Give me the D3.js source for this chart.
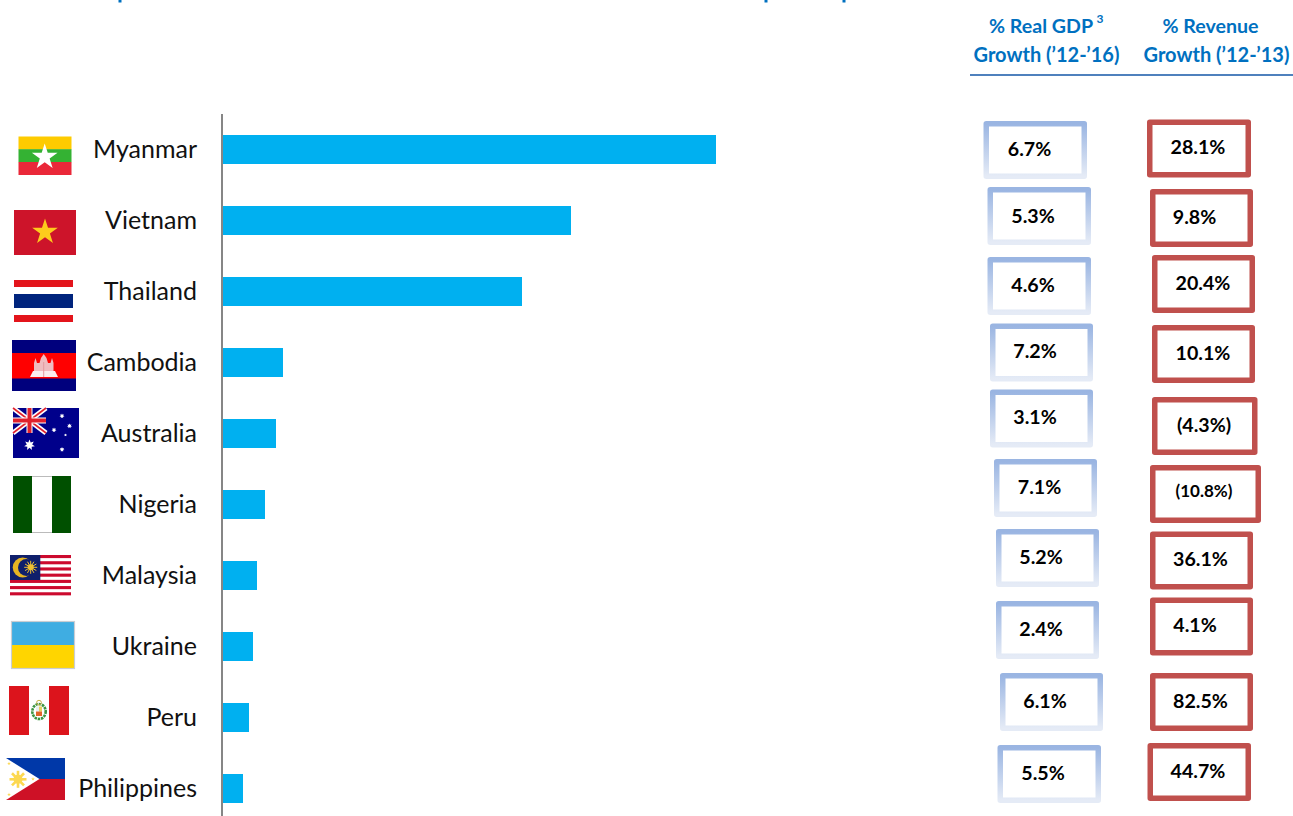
<!DOCTYPE html>
<html>
<head>
<meta charset="utf-8">
<script src="https://cdn.jsdelivr.net/npm/d3@7"></script>
<style>
  html, body { margin: 0; padding: 0; background: #fff; overflow: hidden; }
  svg { display: block; }
  text { font-family: Lato, "Open Sans", sans-serif; }
</style>
</head>
<body>
<svg id="chart" width="1293" height="816"></svg>
<script>
// Chart values
const countries = ["Myanmar", "Vietnam", "Thailand", "Cambodia", "Australia", "Nigeria", "Malaysia", "Ukraine", "Peru", "Philippines"];
const barValues = [493, 348, 299, 60, 53, 42, 34, 30, 26, 20];
const gdpGrowth = ["6.7%", "5.3%", "4.6%", "7.2%", "3.1%", "7.1%", "5.2%", "2.4%", "6.1%", "5.5%"];
const revenueGrowth = ["28.1%", "9.8%", "20.4%", "10.1%", "(4.3%)", "(10.8%)", "36.1%", "4.1%", "82.5%", "44.7%"];

// Hand placement of the value boxes: [left, top, width, height, text centre x, text centre y]
const gdpBoxes = [
  [983.5, 121, 103.5, 58, 1029.5, 149], [987.5, 187, 103.5, 58, 1033, 216], [987.5, 257, 103.5, 58, 1033, 285],
  [990, 323.5, 103, 58, 1035, 351], [990, 389.5, 103, 58, 1035, 417], [994, 459, 103, 58, 1039.5, 487],
  [996, 529, 103, 58, 1041, 557], [996, 601, 103, 58, 1041, 629], [1000, 673, 103, 58, 1045, 701],
  [997.5, 745, 103.5, 58, 1043, 773]
];
const revenueBoxes = [
  [1147, 119.5, 104, 58, 1198, 147], [1150, 189, 103, 58, 1194.5, 217], [1152, 255, 103, 58, 1203, 283],
  [1152, 325, 103, 58, 1203, 353], [1152, 397, 105.5, 58, 1204, 425], [1150, 465, 111, 58, 1204, 491],
  [1150, 531.5, 103, 58, 1200.5, 559], [1150, 597.5, 103, 58, 1195, 625], [1150, 673, 103, 58, 1200.5, 701],
  [1147.5, 743, 103.5, 58, 1198, 771]
];

const svg = d3.select("#chart");

const x = d3.scaleLinear().domain([0, 500]).range([223, 723]);
const y = d3.scaleBand().domain(countries).range([135, 803]).paddingInner(42 / 71).paddingOuter(0);

// Gradient used by the GDP box outlines
const defs = svg.append("defs");
const grad = defs.append("linearGradient").attr("id", "gdpStroke")
  .attr("gradientUnits", "objectBoundingBox")
  .attr("x1", 0).attr("y1", 0).attr("x2", 0).attr("y2", 1);
grad.append("stop").attr("offset", "0%").attr("stop-color", "#9ab5e2");
grad.append("stop").attr("offset", "100%").attr("stop-color", "#e5ebf6");

// Bars
svg.append("g").selectAll("rect").data(countries).join("rect")
  .attr("x", x(0))
  .attr("y", d => y(d))
  .attr("width", (d, i) => x(barValues[i]) - x(0))
  .attr("height", y.bandwidth())
  .attr("fill", "#00b0f0");

// Category axis line
svg.append("line").attr("x1", 222).attr("x2", 222).attr("y1", 114).attr("y2", 816)
  .attr("stroke", "#868686").attr("stroke-width", 2);

// Country names
svg.append("g").selectAll("text").data(countries).join("text")
  .attr("x", 197)
  .attr("y", d => y(d) + y.bandwidth() / 2 - 0.3)
  .attr("dy", "0.35em")
  .attr("text-anchor", "end")
  .attr("font-size", 25)
  .attr("fill", "#111")
  .text(d => d);

// Value boxes
function drawBoxes(values, boxes, stroke) {
  const g = svg.append("g");
  values.forEach((v, i) => {
    const [bx, by, bw, bh, tx, ty] = boxes[i];
    g.append("rect").attr("x", bx + 2.75).attr("y", by + 2.75)
      .attr("width", bw - 5.5).attr("height", bh - 5.5)
      .attr("fill", "#fff").attr("stroke", stroke).attr("stroke-width", 5.5)
      .attr("stroke-linejoin", "round");
    g.append("text").attr("x", tx).attr("y", ty).attr("dy", "0.35em")
      .attr("text-anchor", "middle").attr("font-weight", 700)
      .attr("font-size", v === "(10.8%)" ? 17 : 19.6).attr("fill", "#000").text(v);
  });
}
drawBoxes(gdpGrowth, gdpBoxes, "url(#gdpStroke)");
drawBoxes(revenueGrowth, revenueBoxes, "#c0504d");

// Column headers
const head = svg.append("g").attr("fill", "#0070c0").attr("font-weight", 700).attr("font-size", 20).attr("text-anchor", "middle");
head.append("text").attr("x", 1041).attr("y", 33).attr("font-size", 19.6).text("% Real GDP");
head.append("text").attr("x", 1100).attr("y", 23).attr("font-size", 12).text("3");
head.append("text").attr("x", 1046.5).attr("y", 62).text("Growth (’12-’16)");
head.append("text").attr("x", 1210.5).attr("y", 33).attr("font-size", 19.6).text("% Revenue");
head.append("text").attr("x", 1216.5).attr("y", 62).text("Growth (’12-’13)");
svg.append("line").attr("x1", 970).attr("x2", 1293).attr("y1", 75).attr("y2", 75)
  .attr("stroke", "#4f81bd").attr("stroke-width", 2);

// Tips of the heading's descenders along the top edge
svg.append("g").attr("fill", "#0070c0").selectAll("rect")
  .data([[118.5, 3], [764.5, 3], [842.5, 3]]).join("rect")
  .attr("x", d => d[0]).attr("y", 0).attr("width", d => d[1]).attr("height", 2.5);

// Flag helpers
const flags = svg.append("g");
const box = (g, x0, y0, w, h, fill) => g.append("rect").attr("x", x0).attr("y", y0).attr("width", w).attr("height", h).attr("fill", fill);
function star(g, cx, cy, r, fill, points = 5, inner = 0.382) {
  const pts = d3.range(points * 2).map(i => {
    const a = -Math.PI / 2 + i * Math.PI / points, rr = i % 2 ? r * inner : r;
    return [cx + rr * Math.cos(a), cy + rr * Math.sin(a)];
  });
  g.append("polygon").attr("points", pts.join(" ")).attr("fill", fill);
}
function sun(g, cx, cy, r, ray, fill, n = 8, w = 1.4) {
  d3.range(n).forEach(i => {
    const a = i * 2 * Math.PI / n;
    g.append("line").attr("x1", cx).attr("y1", cy)
      .attr("x2", cx + ray * Math.cos(a)).attr("y2", cy + ray * Math.sin(a))
      .attr("stroke", fill).attr("stroke-width", w);
  });
  g.append("circle").attr("cx", cx).attr("cy", cy).attr("r", r).attr("fill", fill);
}

// Myanmar
box(flags, 18.5, 136.5, 53, 13, "#fecb00");
box(flags, 18.5, 149.2, 53, 13, "#34b233");
box(flags, 18.5, 162, 53, 13, "#ea2839");
star(flags, 44.7, 157, 13.5, "#fff");

// Vietnam
box(flags, 14, 210, 62, 45, "#cd142a");
star(flags, 45, 232, 13.5, "#fdcb1c");

// Thailand
box(flags, 14, 280, 59, 7, "#e3141b");
box(flags, 14, 294, 59, 14, "#00247d");
box(flags, 14, 315, 59, 7, "#e3141b");

// Cambodia
box(flags, 12, 340, 64, 51, "#00007d");
box(flags, 12, 353, 64, 25.5, "#ff0000");
flags.append("polygon").attr("fill", "#efbcc0").attr("points",
  "34,371 34,363 35.5,358 37,363 39.5,363 41,358 43.7,354 46.5,358 48,363 50.5,363 52,358 53.5,363 53.5,371");
flags.append("polygon").attr("fill", "#fbeeee").attr("points", "33,371 30,377 58,377 55,371");
box(flags, 43.2, 362, 1, 15, "#e39a9e");

// Australia
box(flags, 13, 408, 66, 50, "#00008b");
const cross = flags.append("g");
[[13, 408, 46, 433], [13, 433, 46, 408]].forEach(l => {
  cross.append("line").attr("x1", l[0]).attr("y1", l[1]).attr("x2", l[2]).attr("y2", l[3]).attr("stroke", "#fff").attr("stroke-width", 5);
  cross.append("line").attr("x1", l[0]).attr("y1", l[1]).attr("x2", l[2]).attr("y2", l[3]).attr("stroke", "#e0202c").attr("stroke-width", 1.6);
});
box(cross, 26.5, 408, 6, 25, "#fff");
box(cross, 13, 417.5, 33, 6, "#fff");
box(cross, 27.5, 408, 4, 25, "#e0202c");
box(cross, 13, 418.5, 33, 4, "#e0202c");
star(flags, 29.5, 445, 5.5, "#fff", 7, 0.5);
[[62, 416, 2.6], [69.5, 426, 2.6], [54, 430, 2.6], [65.5, 435, 1.5], [62, 449.5, 2.6]].forEach(s => star(flags, s[0], s[1], s[2], "#fff", 7, 0.5));

// Nigeria
box(flags, 13, 476, 58, 57, "#005000");
box(flags, 32, 476, 20, 57, "#fff");
box(flags, 32, 476, 20, 0.8, "#aaa");
box(flags, 32, 532.2, 20, 0.8, "#aaa");

// Malaysia
box(flags, 10, 555, 61, 43.5, "#fff");
d3.range(7).forEach(i => box(flags, 10, 555 + i * 6.21, 61, 3.1, "#cc0a2e"));
box(flags, 10, 555, 30.3, 25, "#0f1f6b");
flags.append("circle").attr("cx", 22.7).attr("cy", 567.5).attr("r", 10).attr("fill", "#e6b422");
flags.append("circle").attr("cx", 26.5).attr("cy", 567.5).attr("r", 8.5).attr("fill", "#0f1f6b");
sun(flags, 30.7, 567.3, 3, 6.5, "#f0c030", 12, 1);

// Ukraine
box(flags, 11, 621, 64, 24, "#3fade2");
box(flags, 11, 645, 64, 24, "#ffd500");
flags.append("rect").attr("x", 11.5).attr("y", 621.5).attr("width", 63).attr("height", 47)
  .attr("fill", "none").attr("stroke", "#c9cdd2").attr("stroke-width", 1.2);

// Peru
box(flags, 9, 686, 60, 49, "#dc141c");
box(flags, 29, 686, 20, 49, "#fff");
flags.append("ellipse").attr("cx", 39).attr("cy", 711.5).attr("rx", 6.7).attr("ry", 7.5)
  .attr("fill", "none").attr("stroke", "#3c9440").attr("stroke-width", 2.6).attr("stroke-dasharray", "2.5 0.8");
box(flags, 36, 706.5, 3, 5, "#e8eef0");
box(flags, 39, 706.5, 3, 5, "#e9d060");
box(flags, 36, 711.5, 6, 4.5, "#e0652a");
flags.append("circle").attr("cx", 39).attr("cy", 702.7).attr("r", 2.4).attr("fill", "none").attr("stroke", "#c8b04a").attr("stroke-width", 1);

// Philippines
box(flags, 6, 758, 59, 21, "#0038a8");
box(flags, 6, 779, 59, 21, "#ce1126");
flags.append("polygon").attr("points", "6,758 39.5,779 6,800").attr("fill", "#fff");
sun(flags, 18, 779.3, 4.5, 8.5, "#fcd850", 8, 2.6);
[[9, 763.5], [33, 779], [9, 794.5]].forEach(s => star(flags, s[0], s[1], 2, "#fcd850"));
</script>
</body>
</html>
